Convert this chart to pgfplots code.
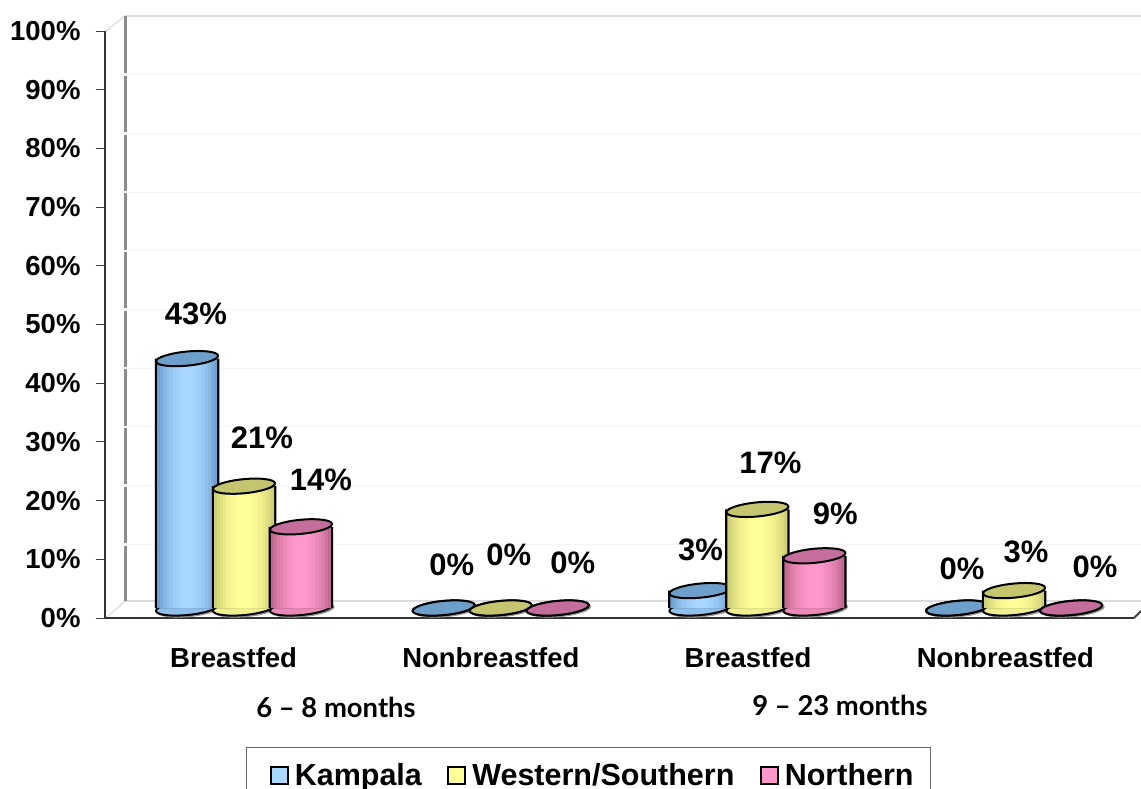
\documentclass[border=0pt]{standalone}
\usepackage{pgfplots}
\usepackage{pgfplotstable}
\usepackage{fontspec}
\pgfplotsset{compat=1.18}
\setmainfont{Liberation Sans}
\newfontfamily\gill{Lato}
\definecolor{bluelight}{HTML}{A8D8FF}\definecolor{blueedge}{HTML}{6F9FCF}\definecolor{bluetop}{HTML}{6E9FCB}\definecolor{bluebase}{HTML}{8FC0EC}
\definecolor{yelllight}{HTML}{FFFF99}\definecolor{yelledge}{HTML}{CFCF78}\definecolor{yelltop}{HTML}{C5C56F}\definecolor{yellbase}{HTML}{F0F08E}
\definecolor{pinklight}{HTML}{FF99CC}\definecolor{pinkedge}{HTML}{C0688F}\definecolor{pinktop}{HTML}{C56E9B}\definecolor{pinkbase}{HTML}{EC88B8}
\pgfdeclareplotmark{cyl}{%
  \pgfpathellipse{\pgfpointorigin}{\pgfqpoint{31pt}{3pt}}{\pgfqpoint{-0.8pt}{7pt}}%
  \pgfusepathqfillstroke}
\pgfplotstableread{
x y dx dy
-0.222 43 9 45
0.778 0 8 43
1.778 3 0 41
2.778 0 5 39
}\tblKampala
\pgfplotstableread{
x y dx dy
0 21 18 48
1 0 8 53
2 17 13 47
3 3 12 39
}\tblWestern
\pgfplotstableread{
x y dx dy
0.222 14 20 47
1.222 0 15 45
2.222 9 21 42
3.222 0 24 41
}\tblNorthern
\newcommand{\barlayer}[3]{% table, width, colour
  \addplot[forget plot, ybar, bar shift=0pt, bar width=#2pt, draw=none, fill=#3]
    table[x=x, y=y] {#1};}
\newcommand{\cylinders}[5]{%
  % floor shadow and bottom ellipse
  \addplot[forget plot, only marks, mark=cyl, mark options={draw=black!40, line width=1pt, fill=black!40, xshift=2pt, yshift=-1.5pt}]
    table[x=x, y expr=0] {#1};
  \addplot[forget plot, only marks, mark=cyl, mark options={draw=black, line width=2pt, fill=#5}]
    table[x=x, y expr=0] {#1};
  % black sides, then the body as bands from edge colour to highlight
  \barlayer{#1}{64.5}{black}
  \barlayer{#1}{60}{#3}
  \barlayer{#1}{54}{#2!20!#3}
  \barlayer{#1}{48}{#2!40!#3}
  \barlayer{#1}{42}{#2!55!#3}
  \barlayer{#1}{36}{#2!70!#3}
  \barlayer{#1}{28}{#2!82!#3}
  \barlayer{#1}{20}{#2!92!#3}
  \barlayer{#1}{12}{#2}
  % top ellipse and the value label
  \addplot[forget plot, only marks, mark=cyl, mark options={draw=black, line width=2pt, fill=#4},
    visualization depends on={\thisrow{dx} \as \mydx},
    visualization depends on={\thisrow{dy} \as \mydy},
    point meta=y,
    nodes near coords={\pgfmathprintnumber{\pgfplotspointmeta}\%},
    nodes near coords style={anchor=center, xshift=\mydx pt, yshift=\mydy pt, text=black, font=\fontsize{31}{33}\selectfont\bfseries, /pgf/number format/assume math mode=true}]
    table[x=x, y=y] {#1};
}
\begin{document}
\begin{tikzpicture}[x=1pt,y=1pt]
\path[use as bounding box] (0,0) rectangle (1141,788);
% back wall and floor of the 3-D frame
\draw[color=black!14, line width=1.5pt] (125,772) -- (1141,772);
\draw[color=black!14, line width=1.2pt] (125,187) -- (1141,187);
\draw[color=black!14, line width=1.2pt] (106,170) -- (125,187);
\draw[color=black!14, line width=1.2pt] (106,757) -- (125,772);
\draw[color=black!45, line width=3pt] (125,772) -- (125,187);
\foreach \k in {1,...,9} {
  \draw[color=black!4, line width=1pt] (127,772-58.7*\k) -- (1141,772-58.7*\k);
  \draw[color=white, line width=2.5pt] (122,772-58.7*\k) -- (128,772-58.7*\k);
}
\draw[color=black!75, line width=2pt] (1134,170) -- (1141,177);
\begin{axis}[
  at={(105pt,170pt)}, anchor=south west,
  scale only axis, width=1029pt, height=587pt,
  xmin=0, xmax=4, ymin=0, ymax=100,
  axis x line*=bottom, axis y line*=left,
  axis line style={color=black!80, line width=2.8pt, -},
  xtick={0.5,1.5,2.5,3.5},
  xticklabels={Breastfed,Nonbreastfed,Breastfed,Nonbreastfed},
  major x tick style={draw=none},
  extra x ticks={0,1,2,3,4},
  extra x tick labels={},
  extra x tick style={tick style={draw=black!75, line width=0.8pt}, major tick length=10pt},
  ytick={0,10,...,100},
  yticklabel={\pgfmathprintnumber{\tick}\%},
  ytick style={draw=black!75, line width=0.8pt},
  tick align=outside, major tick length=9pt,
  /pgf/number format/assume math mode=true,
  ticklabel style={font=\fontsize{27.5}{30}\selectfont\bfseries, text=black},
  yticklabel style={xshift=-12pt},
  xticklabel style={yshift=-17pt},
]
\end{axis}
\begin{axis}[
  at={(115.65pt,180pt)}, anchor=south west,
  scale only axis, width=1026.8pt, height=580pt,
  xmin=-0.5, xmax=3.5, ymin=0, ymax=100,
  axis lines=none, clip=false, clip mode=individual,
  legend columns=3,
  legend style={at={(0.12694,-0.2397)}, anchor=north west, draw=black!60, line width=0.8pt,
    font=\fontsize{30.5}{33}\selectfont\bfseries, inner xsep=15pt, inner ysep=14pt,
    /tikz/every even column/.append style={column sep=15pt},
    /tikz/every odd column/.append style={column sep=4pt}},
  legend image code/.code={\path (-9pt,0pt); \draw[#1, draw=black, line width=2pt] (0pt,-8.5pt) rectangle (17pt,8.5pt);},
]
\cylinders{\tblKampala}{bluelight}{blueedge}{bluetop}{bluebase}
\cylinders{\tblWestern}{yelllight}{yelledge}{yelltop}{yellbase}
\cylinders{\tblNorthern}{pinklight}{pinkedge}{pinktop}{pinkbase}
\addlegendimage{fill=bluelight}\addlegendentry{Kampala}
\addlegendimage{fill=yelllight}\addlegendentry{Western/Southern}
\addlegendimage{fill=pinklight}\addlegendentry{Northern}
\end{axis}
\node[font=\gill\fontsize{27.4}{30}\selectfont\bfseries] at (336,81) {6 – 8 months};
\node[font=\gill\fontsize{27.4}{30}\selectfont\bfseries] at (840,83) {9 – 23 months};
\end{tikzpicture}
\end{document}
